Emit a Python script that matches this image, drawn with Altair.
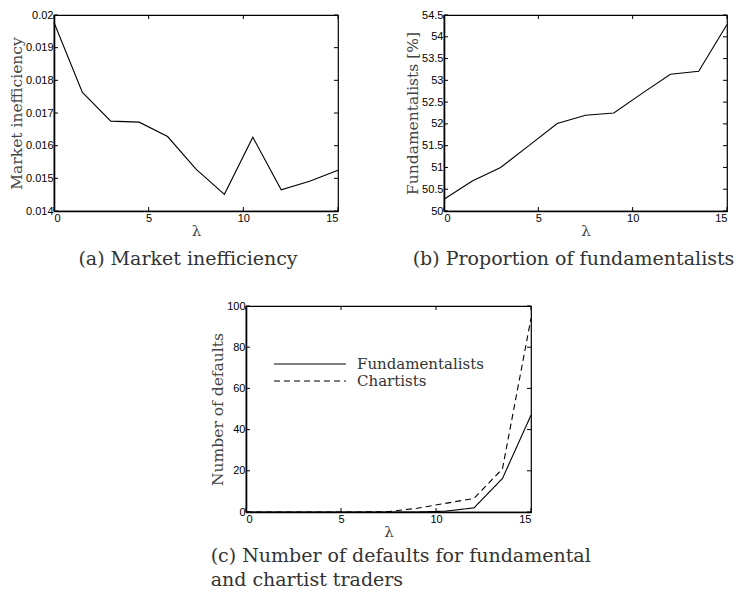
import altair as alt
import pandas as pd

# ---- data ----
lam = [0, 1.5, 3, 4.5, 6, 7.5, 9, 10.5, 12, 13.5, 15]
inefficiency = [0.01977, 0.01763, 0.01675, 0.01672, 0.01628, 0.01528,
                0.01451, 0.01626, 0.01465, 0.01491, 0.01525]
fund_pct = [50.27, 50.69, 51.00, 51.50, 52.01, 52.20, 52.25, 52.70,
            53.14, 53.21, 54.28]
defaults_fund = [0, 0, 0, 0, 0, 0, 0, 0.4, 2.0, 16.3, 47.0]
defaults_chart = [0, 0, 0, 0, 0, 0.2, 1.8, 4.2, 6.6, 21.0, 94.0]
series_names = ["Fundamentalists", "Chartists"]

x_ticks = [0, 5, 10, 15]
a_ticks = [0.014, 0.015, 0.016, 0.017, 0.018, 0.019, 0.02]
b_ticks = [50, 50.5, 51, 51.5, 52, 52.5, 53, 53.5, 54, 54.5]
c_ticks = [0, 20, 40, 60, 80, 100]

SERIF = "DejaVu Serif"
SANS = "Liberation Sans"
TXT = "#333333"
CAP = 19


def xenc(field):
    return alt.X(field, title="λ",
                 scale=alt.Scale(domain=[0, 15], nice=False, zero=False),
                 axis=alt.Axis(values=x_ticks, format="d", titleFontSize=15,
                               titlePadding=0, titleFont=SERIF))


def yenc(field, title, dom, vals, fmt):
    return alt.Y(field, title=title,
                 scale=alt.Scale(domain=dom, nice=False, zero=False),
                 axis=alt.Axis(values=vals, format=fmt))


def inner_ticks(ytitle, yticks, ydom, fmt, W, H, L=4):
    xd = pd.DataFrame({"t": x_ticks})
    yd = pd.DataFrame({"t": yticks})
    layers = []
    for (y1, y2) in [(H, H - L), (0, L)]:
        layers.append(alt.Chart(xd).mark_rule(color="black", strokeWidth=1).encode(
            x=xenc("t:Q"), y=alt.value(y1), y2=alt.value(y2)))
    for (x1, x2) in [(0, L), (W, W - L)]:
        layers.append(alt.Chart(yd).mark_rule(color="black", strokeWidth=1).encode(
            y=yenc("t:Q", ytitle, ydom, yticks, fmt), x=alt.value(x1), x2=alt.value(x2)))
    return layers


# ---- panel (a) ----
Wa, Ha = 284, 196
dfa = pd.DataFrame({"lam": lam, "v": inefficiency})
ta = "Market inefficiency"
line_a = alt.Chart(dfa).mark_line(color="black", strokeWidth=1.1).encode(
    x=xenc("lam:Q"), y=yenc("v:Q", ta, [0.014, 0.02], a_ticks, ".3~f"))
panel_a = alt.layer(line_a, *inner_ticks(ta, a_ticks, [0.014, 0.02], ".3~f", Wa, Ha)).properties(
    width=Wa, height=Ha,
    title=alt.TitleParams("(a)  Market inefficiency", orient="bottom", anchor="middle",
                          font=SERIF, fontSize=CAP, fontWeight="normal", color=TXT,
                          offset=12, dx=-8))

# ---- panel (b) ----
Wb, Hb = 283, 196
dfb = pd.DataFrame({"lam": lam, "v": fund_pct})
tb = "Fundamentalists [%]"
line_b = alt.Chart(dfb).mark_line(color="black", strokeWidth=1.1).encode(
    x=xenc("lam:Q"), y=yenc("v:Q", tb, [50, 54.5], b_ticks, ".1~f"))
panel_b = alt.layer(line_b, *inner_ticks(tb, b_ticks, [50, 54.5], ".1~f", Wb, Hb)).properties(
    width=Wb, height=Hb,
    title=alt.TitleParams("(b)  Proportion of fundamentalists", orient="bottom",
                          anchor="middle", font=SERIF, fontSize=CAP, fontWeight="normal",
                          color=TXT, offset=12, dx=-12))

# ---- panel (c) ----
Wc, Hc = 285, 206
dfc = pd.DataFrame({
    "lam": lam * 2,
    "v": defaults_fund + defaults_chart,
    "series": [series_names[0]] * len(lam) + [series_names[1]] * len(lam),
})
tc = "Number of defaults"
line_c = alt.Chart(dfc).mark_line(color="black", strokeWidth=1.1).encode(
    x=xenc("lam:Q"),
    y=yenc("v:Q", tc, [0, 100], c_ticks, "d"),
    strokeDash=alt.StrokeDash(
        "series:N",
        scale=alt.Scale(domain=series_names, range=[[1, 0], [6, 4]]),
        legend=alt.Legend(title=None, orient="none", legendX=248, legendY=341,
                          symbolType="M-5,0H5", symbolSize=207,
                          symbolStrokeWidth=1.1, symbolStrokeColor="black",
                          labelFont=SERIF, labelFontSize=15, labelColor=TXT,
                          labelOffset=39, rowPadding=1, padding=0)),
    detail="series:N")
panel_c = alt.layer(line_c, *inner_ticks(tc, c_ticks, [0, 100], "d", Wc, Hc)).properties(
    width=Wc, height=Hc,
    title=alt.TitleParams(["(c)  Number of defaults for fundamental",
                           "and chartist traders"],
                          orient="bottom", anchor="start", frame="bounds",
                          font=SERIF, fontSize=CAP, fontWeight="normal", color=TXT,
                          offset=8, lineHeight=24))

spacer = alt.Chart(pd.DataFrame({"v": [0]})).mark_point(opacity=0).encode(
    x=alt.X("v:Q", axis=None), y=alt.Y("v:Q", axis=None)
).properties(width=155, height=10, view=alt.ViewBackground(stroke="transparent"))

top = alt.hconcat(panel_a, panel_b, spacing=63)
bottom = alt.hconcat(spacer, panel_c, spacing=0)

chart = alt.vconcat(top, bottom, spacing=29).properties(
    padding={"left": 0, "top": 0, "right": 0, "bottom": 0}
).configure_view(stroke="black", strokeWidth=1.2).configure_axis(
    grid=False, ticks=False, domainColor="black", domainWidth=1.6,
    labelFont=SANS, labelFontSize=11, labelColor="black", labelPadding=1,
    titleFont=SERIF, titleFontSize=15.5, titleFontWeight="normal", titleColor="#444444",
    titlePadding=1
).configure_axisX(labelPadding=1, titlePadding=0)

chart.save("out.html", embed_options={"renderer": "svg", "actions": False})
